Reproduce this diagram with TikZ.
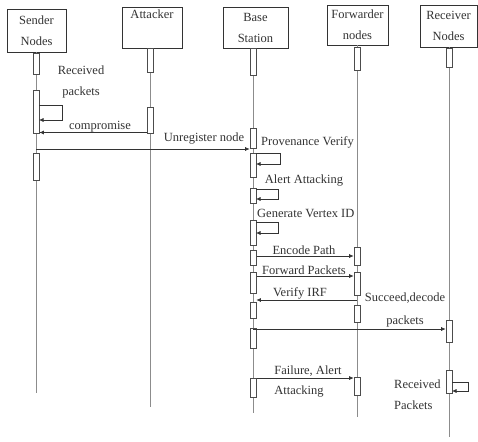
\documentclass[tikz,border=0pt]{standalone}
\usepackage{fontspec}
\setmainfont{Liberation Serif}
\usetikzlibrary{arrows.meta}
\begin{document}
\begin{tikzpicture}[x=1pt,y=-1pt,
  hdr/.style={draw=black!80, line width=0.8pt, fill=white, align=center, inner sep=0pt,
    font=\fontsize{12.5}{21}\selectfont, text=black!80},
  life/.style={draw=black!45, line width=0.9pt},
  bar/.style={draw=black!70, fill=white, line width=0.6pt, minimum width=6pt, inner sep=0pt},
  msg/.style={draw=black!80, line width=0.7pt, -{Latex[length=4.5pt,width=4pt]}},
  loopl/.style={draw=black!80, line width=0.6pt, -{Latex[length=4.5pt,width=4pt]}},
  lbl/.style={font=\fontsize{12.5}{21}\selectfont, text=black!80, inner sep=0pt, align=center}
]
\useasboundingbox (0,0) rectangle (478,441);
\fill[white] (0,0) rectangle (478,441);

% header boxes
\node[hdr, minimum width=59pt, minimum height=43pt] (sn) at (36.5,30.5) {Sender\\Nodes};
\node[hdr, minimum width=60pt, minimum height=41pt] (at) at (152,27.5) {Attacker\\\strut};
\node[hdr, minimum width=65pt, minimum height=41pt] (bs) at (255.5,27.5) {Base\\Station};
\node[hdr, minimum width=61pt, minimum height=40pt] (fw) at (357.5,25) {Forwarder\\nodes};
\node[hdr, minimum width=57pt, minimum height=42pt] (rn) at (448.5,26) {Receiver\\Nodes};

% lifelines
\coordinate (snT) at (36,52);   \coordinate (snE) at (36,393);
\coordinate (atT) at (150,48);  \coordinate (atE) at (150,407);
\coordinate (bsT) at (253,48);  \coordinate (bsE) at (253,413);
\coordinate (fwT) at (357,45);  \coordinate (fwE) at (357,417);
\coordinate (rnT) at (449,47);  \coordinate (rnE) at (449,437);
\draw[life] (snT) -- (snE);
\draw[life] (atT) -- (atE);
\draw[life] (bsT) -- (bsE);
\draw[life] (fwT) -- (fwE);
\draw[life] (rnT) -- (rnE);

% activation bars - sender
\node[bar, minimum height=21pt] (s1) at (36,63.5) {};
\node[bar, minimum height=43pt] (s2) at (36,111.5) {};
\node[bar, minimum height=27pt] (s3) at (36,166.5) {};
% attacker
\node[bar, minimum height=24pt] (a1) at (150,60) {};
\node[bar, minimum height=26pt] (a2) at (150,120) {};
% base station
\node[bar, minimum height=27pt] (b1) at (253,61.5) {};
\node[bar, minimum height=20pt] (b2) at (253,138) {};
\node[bar, minimum height=24pt] (b3) at (253,165) {};
\node[bar, minimum height=15pt] (b4) at (253,195.5) {};
\node[bar, minimum height=25pt] (b5) at (253,232.5) {};
\node[bar, minimum height=15pt] (b6) at (253,257.5) {};
\node[bar, minimum height=21pt] (b7) at (253,282.5) {};
\node[bar, minimum height=16pt] (b8) at (253,310) {};
\node[bar, minimum height=20pt] (b9) at (253,338) {};
\node[bar, minimum height=19pt] (b10) at (253,387.5) {};
% forwarder
\node[bar, minimum height=23pt] (f1) at (357,58.5) {};
\node[bar, minimum height=18pt] (f2) at (357,256) {};
\node[bar, minimum height=23pt] (f3) at (357,283.5) {};
\node[bar, minimum height=17pt] (f4) at (357,313.5) {};
\node[bar, minimum height=18pt] (f5) at (357,386) {};
% receiver
\node[bar, minimum height=19pt] (r1) at (449,57.5) {};
\node[bar, minimum height=22pt] (r2) at (449,331) {};
\node[bar, minimum height=23pt] (r3) at (449,381.5) {};

% sender self loop: Received packets
\node[lbl] (lRec) at (81,82) {Received\\packets};
\coordinate (sl1) at (39,105);
\draw[loopl] (sl1) -- ++(23,0) -- ++(0,15) -- ++(-23,0);

% compromise
\coordinate (cp) at (147,132.5);
\draw[msg] (cp) -- (cp -| s2.east);
\node[lbl, anchor=south] (lCmp) at (100,132) {compromise};

% Unregister node
\coordinate (un) at (36,149);
\draw[msg] (un) -- (un -| b2.west);
\node[lbl] (lUn) at (204,139) {Unregister node};

% Provenance Verify
\node[lbl, anchor=west] (lPv) at (261,142) {Provenance Verify};
\coordinate (bl1) at (256,153);
\draw[loopl] (bl1) -- ++(24,0) -- ++(0,11) -- ++(-24,0);

% Alert Attacking
\node[lbl] (lAa) at (304,181) {Alert Attacking};
\coordinate (bl2) at (256,189);
\draw[loopl] (bl2) -- ++(22,0) -- ++(0,10) -- ++(-22,0);

% Generate Vertex ID
\node[lbl, anchor=west] (lGv) at (257,213) {Generate Vertex ID};
\coordinate (bl3) at (256,222);
\draw[loopl] (bl3) -- ++(22,0) -- ++(0,11) -- ++(-22,0);

% Encode Path
\coordinate (ep) at (256.5,256);
\draw[msg] (ep) -- (ep -| f2.west);
\node[lbl, anchor=south] (lEp) at (304,255) {Encode Path};

% Forward Packets
\coordinate (fp) at (256.5,276);
\draw[msg] (fp) -- (fp -| f3.west);
\node[lbl, anchor=south] (lFp) at (304,275) {Forward Packets};

% Verify IRF
\coordinate (vi) at (357,300);
\draw[msg] (vi) -- (vi -| b8.east);
\node[lbl, anchor=south] (lVi) at (300,299) {Verify IRF};

% Succeed, decode packets
\node[lbl] (lSd) at (405,298) {Succeed,decode};
\node[lbl] (lSd2) at (405,321) {packets};
\coordinate (sd) at (253,329);
\draw[msg] (sd) -- (sd -| r2.west);

% Failure, Alert Attacking
\coordinate (fa) at (256.5,378);
\draw[msg] (fa) -- (fa -| f5.west);
\node[lbl, anchor=south] (lFa) at (308,377) {Failure, Alert};
\node[lbl] (lFa2) at (299,392) {Attacking};

% Receiver self loop
\node[lbl, align=left, anchor=west] (lRp) at (394,395) {Received\\Packets};
\coordinate (rl) at (452,382);
\draw[loopl] (rl) -- ++(16,0) -- ++(0,9) -- ++(-16,0);
\end{tikzpicture}
\end{document}
